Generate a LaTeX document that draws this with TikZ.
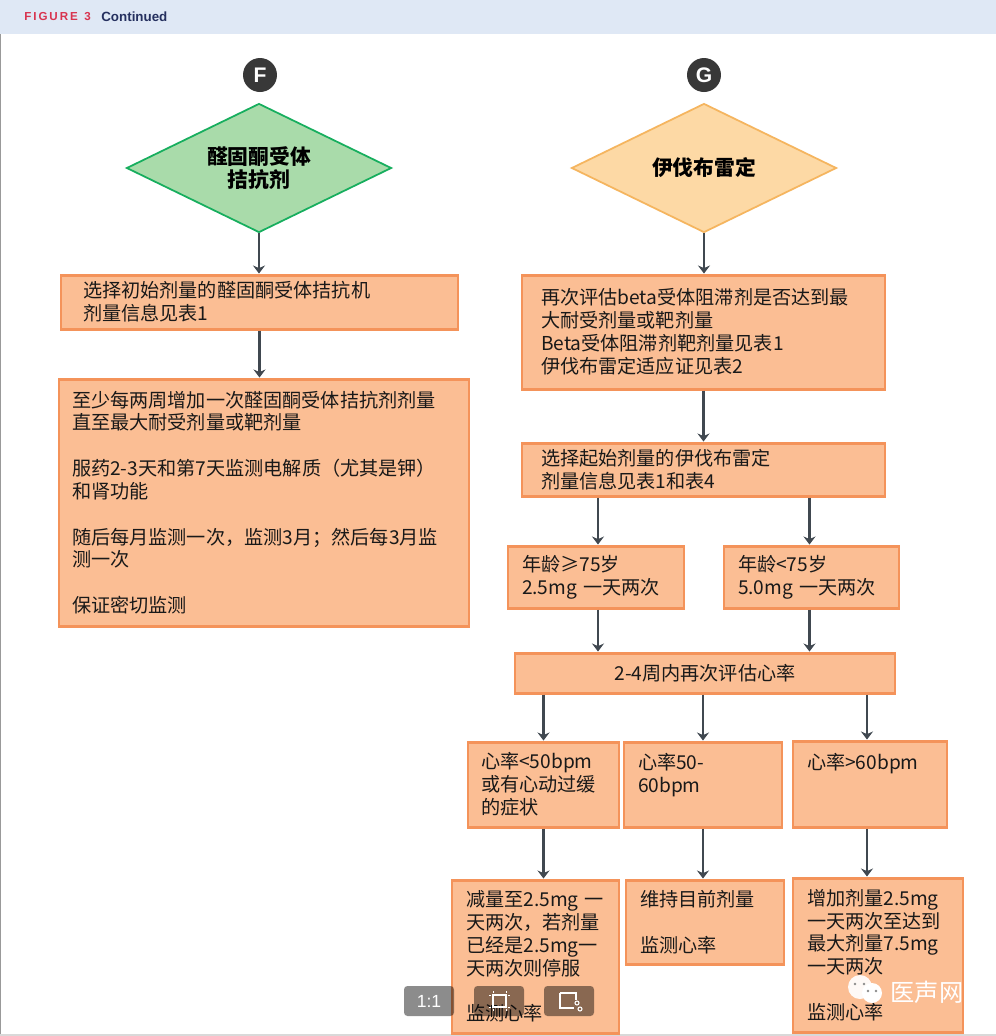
\documentclass[tikz,border=0pt]{standalone}
\usepackage{fontspec}
\setmainfont{Noto Sans CJK SC}
\newfontfamily\headfont{Liberation Sans}
\usetikzlibrary{arrows.meta, positioning, shapes.geometric}
\definecolor{boxfill}{HTML}{FBBE94}
\definecolor{boxline}{HTML}{F4935A}
\definecolor{greenfill}{HTML}{A9DBAA}
\definecolor{greenline}{HTML}{17AE5E}
\definecolor{yellowfill}{HTML}{FDD9A5}
\definecolor{yellowline}{HTML}{F5B55F}
\definecolor{arrowgray}{HTML}{404850}
\definecolor{headband}{HTML}{DFE8F5}
\definecolor{headred}{HTML}{D8334F}
\definecolor{headnavy}{HTML}{25305F}
\tikzstyle{arrow} = [line width=1.7pt, arrowgray, -{Stealth[length=1.6mm, width=2.4mm]}]
\tikzstyle{flowbox} = [draw=boxline, fill=boxfill, line width=1.7pt, inner ysep=0pt,
  align=left, text=black!90, font=\fontsize{10.9}{13}\selectfont]
\tikzstyle{decision} = [diamond, aspect=2.05, line width=1pt, inner sep=0pt, align=center,
  minimum width=5.3cm, minimum height=2.58cm, font=\fontsize{11.8}{13}\selectfont\bfseries]
\tikzstyle{badge} = [circle, fill=black!78, text=white, inner sep=0pt, minimum size=0.68cm,
  font=\headfont\fontsize{12}{12}\selectfont\bfseries]
\tikzstyle{toolbtn} = [rounded corners=2pt, fill=black, opacity=0.45]
\tikzset{
  boxsize/.style n args={3}{minimum width=#1*0.02cm, minimum height=#2*0.02cm,
    inner xsep=#3*0.02cm, text width=#1*0.02cm-2*#3*0.02cm}
}

\begin{document}
\begin{tikzpicture}[x=0.02cm, y=-0.02cm, line join=miter]
    \useasboundingbox (0,0) rectangle (996,1036);
    \fill[white] (0,0) rectangle (996,1036);

    % Header band
    \fill[headband] (0,0) rectangle (996,34);
    \draw[black!40, line width=0.6pt] (0.5,34) -- (0.5,1036);
    \draw[black!15, line width=0.6pt] (0,1035) -- (996,1035);
    \node[anchor=west, inner sep=0pt, headred, font=\headfont\fontsize{6.6}{8}\selectfont\bfseries] (figlabel) at (24,17) {F\,I\,G\,U\,R\,E\ \ 3};
    \node[anchor=west, inner sep=0pt, headnavy, font=\headfont\fontsize{7.6}{9}\selectfont\bfseries] (figcont) at (101,17) {Continued};

    % Left branch
    \node[badge] (badgeF) at (260,75) {F};
    \node[decision, draw=greenline, fill=greenfill] (spiro) at (259,168) {醛固酮受体\\拮抗剂};
    \node[flowbox, boxsize={397}{54}{22}] (fstart) at (259.5,302) {选择初始剂量的醛固酮受体拮抗机\\剂量信息见表1};
    \node[flowbox, boxsize={410}{247}{13}] (fmonitor) at (264,502.5) {至少每两周增加一次醛固酮受体拮抗剂剂量\\直至最大耐受剂量或靶剂量\\~\\服药2-3天和第7天监测电解质（尤其是钾）\\和肾功能\\~\\随后每月监测一次，监测3月；然后每3月监\\测一次\\~\\保证密切监测};

    % Right branch
    \node[badge] (badgeG) at (704,75) {G};
    \node[decision, draw=yellowline, fill=yellowfill] (ivab) at (704,168) {伊伐布雷定};
    \node[flowbox, boxsize={363}{114}{19}] (greassess) at (703.5,332) {再次评估beta受体阻滞剂是否达到最\\大耐受剂量或靶剂量\\Beta受体阻滞剂靶剂量见表1\\伊伐布雷定适应证见表2};
    \node[flowbox, boxsize={363}{53}{19}] (gstart) at (703.5,469.5) {选择起始剂量的伊伐布雷定\\剂量信息见表1和表4};
    \node[flowbox, boxsize={176}{62}{14}] (ageold) at (596,577) {年龄≥75岁\\2.5mg 一天两次};
    \node[flowbox, boxsize={175}{62}{14}] (ageyoung) at (811.5,577) {年龄<75岁\\5.0mg 一天两次};
    \node[flowbox, boxsize={380}{40}{14}, align=center] (hrcheck) at (705,673) {2-4周内再次评估心率};
    \node[flowbox, boxsize={151}{85}{13}] (hrlow) at (543.5,784.5) {心率<50bpm\\或有心动过缓\\的症状};
    \node[flowbox, boxsize={158}{85}{14}] (hrmid) at (703,784.5) {心率50-\\60bpm\\~};
    \node[flowbox, boxsize={154}{86}{14}] (hrhigh) at (870,784) {心率>60bpm\\~\\~};
    \node[flowbox, boxsize={167}{153}{14}] (acthalf) at (535.5,956.5) {减量至2.5mg 一\\天两次，若剂量\\已经是2.5mg一\\天两次则停服\\~\\监测心率};
    \node[flowbox, boxsize={158}{84}{14}] (actkeep) at (705,922) {维持目前剂量\\~\\监测心率};
    \node[flowbox, boxsize={170}{154}{14}] (actup) at (878,955) {增加剂量2.5mg\\一天两次至达到\\最大剂量7.5mg\\一天两次\\~\\监测心率};

    % Connectors
    \draw[arrow] (spiro.south) -- (fstart.north -| spiro.south);
    \draw[arrow] (fstart.south) -- (fstart.south |- fmonitor.north);
    \draw[arrow] (ivab.south) -- (greassess.north -| ivab.south);
    \draw[arrow] (greassess.south) -- (gstart.north);
    \foreach \tgt/\dx in {ageold/2, ageyoung/-2}{
      \draw[arrow] ([xshift=\dx*0.02cm]\tgt.north |- gstart.south) -- ([xshift=\dx*0.02cm]\tgt.north);
      \draw[arrow] ([xshift=\dx*0.02cm]\tgt.south) -- ([xshift=\dx*0.02cm]\tgt.south |- hrcheck.north);
    }
    \foreach \src/\tgt in {hrlow/acthalf, hrmid/actkeep}{
      \draw[arrow] (\src.north |- hrcheck.south) -- (\src.north);
      \draw[arrow] (\src.south) -- (\src.south |- \tgt.north);
    }
    \draw[arrow] ([xshift=-3*0.02cm]hrhigh.north |- hrcheck.south) -- ([xshift=-3*0.02cm]hrhigh.north);
    \draw[arrow] ([xshift=-3*0.02cm]hrhigh.south) -- ([xshift=-3*0.02cm]hrhigh.south |- actup.north);

    % Viewer buttons over the picture
    \fill[toolbtn] (404,986) rectangle (454,1016);
    \fill[toolbtn] (474,986) rectangle (524,1016);
    \fill[toolbtn] (544,986) rectangle (594,1016);
    \node[text=white, font=\headfont\fontsize{10}{12}\selectfont] (btnone) at (429,1001) {1:1};
    \draw[white, line width=0.6pt] (493,995) rectangle (506,1007);
    \draw[white, line width=0.5pt] (489,995) -- (491,995) (508,995) -- (510,995) (489,1007) -- (491,1007) (508,1007) -- (510,1007)
      (493,991) -- (493,993) (506,991) -- (506,993) (493,1009) -- (493,1011) (506,1009) -- (506,1011);
    \draw[white, line width=0.6pt] (560,993) -- (560,1008) -- (574,1008) (560,993) -- (576,993) -- (576,1000);
    \foreach \cx/\cy in {577/1003, 580/1009}
      \draw[white, line width=0.6pt] (\cx,\cy) circle (2);

    % Watermark
    \fill[white, opacity=0.92] (860,987) circle (12);
    \fill[white] (872,993) circle (10);
    \fill[black!45] (855,984) circle (1.3) (864,984) circle (1.3) (868,991) circle (1.3) (876,991) circle (1.3);
    \node[text=white, font=\fontsize{13.8}{16}\selectfont] (wmark) at (927,992) {医声网};
\end{tikzpicture}
\end{document}
